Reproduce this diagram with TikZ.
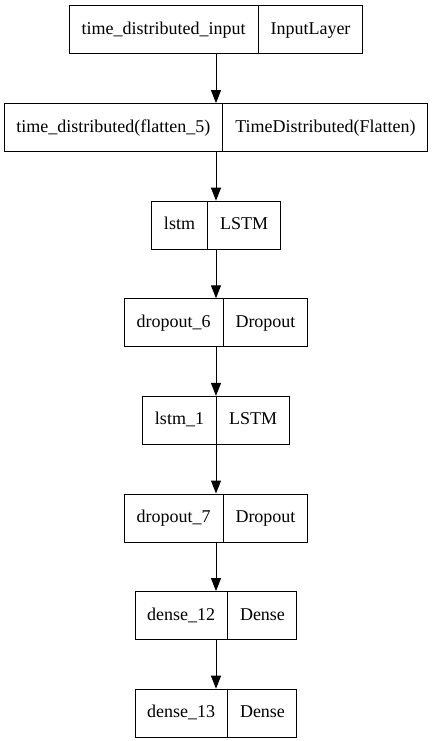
\documentclass[tikz,border=0pt]{standalone}
\usepackage{fontspec}
\setmainfont{Liberation Serif}
\usetikzlibrary{
  arrows.meta,
  positioning,
  shapes.multipart
}

\begin{document}
\begin{tikzpicture}[
  x=1pt, y=-1pt,
  layerbox/.style={
    draw=black, line width=1pt, rectangle split, rectangle split horizontal,
    rectangle split parts=2, rectangle split part align=base,
    inner xsep=12pt, inner ysep=15.5pt,
    text height=13pt, text depth=4pt, font=\fontsize{18}{21}\selectfont
  },
  flow/.style={-{Triangle[length=13pt, width=10pt]}, line width=1pt, draw=black}
]
  \useasboundingbox (0,0) rectangle (432,741);
  \node[layerbox] (input) at (216,30) {time\_distributed\_input \nodepart{two} InputLayer};
  \node[layerbox, below=48.6pt of input] (flat) {time\_distributed(flatten\_5) \nodepart{two} TimeDistributed(Flatten)};
  \node[layerbox, below=48.6pt of flat] (lstm) {lstm \nodepart{two} LSTM};
  \node[layerbox, below=48.6pt of lstm] (drop6) {dropout\_6 \nodepart{two} Dropout};
  \node[layerbox, below=48.6pt of drop6] (lstm1) {lstm\_1 \nodepart{two} LSTM};
  \node[layerbox, below=48.6pt of lstm1] (drop7) {dropout\_7 \nodepart{two} Dropout};
  \node[layerbox, below=48.6pt of drop7] (dense12) {dense\_12 \nodepart{two} Dense};
  \node[layerbox, below=48.6pt of dense12] (dense13) {dense\_13 \nodepart{two} Dense};

  \draw[flow] (input.south) -- (flat.north);
  \draw[flow] (flat.south) -- (lstm.north);
  \draw[flow] (lstm.south) -- (drop6.north);
  \draw[flow] (drop6.south) -- (lstm1.north);
  \draw[flow] (lstm1.south) -- (drop7.north);
  \draw[flow] (drop7.south) -- (dense12.north);
  \draw[flow] (dense12.south) -- (dense13.north);
\end{tikzpicture}
\end{document}
